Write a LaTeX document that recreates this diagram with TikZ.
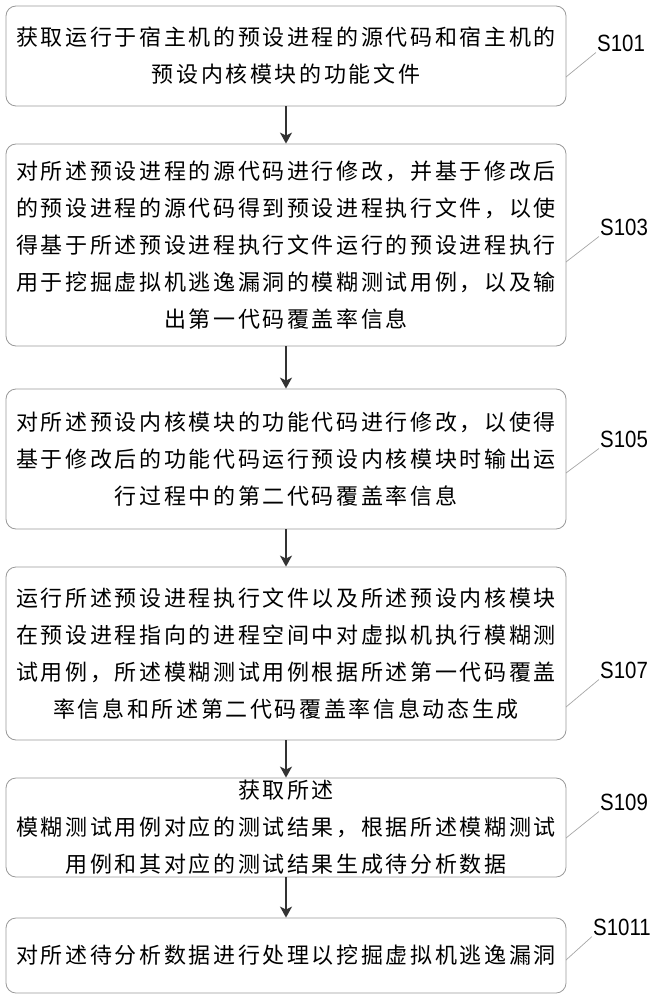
\documentclass[tikz,border=0pt]{standalone}
\usepackage{fontspec}
\newfontfamily\cjk[LetterSpace=12]{Noto Sans CJK SC}
\newfontfamily\labfont[FakeStretch=0.87]{Liberation Sans}
\usetikzlibrary{arrows.meta}

\tikzset{
    stepbox/.style={draw=black!40, line width=0.8pt, rounded corners=10pt, minimum width=560pt, align=center, inner sep=1pt, text=black, font=\cjk\fontsize{22}{37}\selectfont},
    flow/.style={->, draw=black!80, line width=1.6pt},
    steplabel/.style={inner sep=1pt, text=black, font=\labfont\fontsize{23.5}{23.5}\selectfont},
    leader/.style={draw=black!35, line width=0.7pt}
}

\begin{document}
\begin{tikzpicture}[x=1pt, y=-1pt, >={Stealth[length=11pt, width=12pt, inset=3pt]}]
    \useasboundingbox (0,0) rectangle (655,1000);

    % Boxes
    \node[stepbox, minimum height=100pt] (b1) at (286,56) {获取运行于宿主机的预设进程的源代码和宿主机的\\预设内核模块的功能文件};
    \node[stepbox, minimum height=202pt] (b2) at (286,245) {对所述预设进程的源代码进行修改，并基于修改后\\的预设进程的源代码得到预设进程执行文件，以使\\得基于所述预设进程执行文件运行的预设进程执行\\用于挖掘虚拟机逃逸漏洞的模糊测试用例，以及输\\出第一代码覆盖率信息};
    \node[stepbox, minimum height=140pt] (b3) at (286,459) {对所述预设内核模块的功能代码进行修改，以使得\\基于修改后的功能代码运行预设内核模块时输出运\\行过程中的第二代码覆盖率信息};
    \node[stepbox, minimum height=173pt] (b4) at (286,653.5) {运行所述预设进程执行文件以及所述预设内核模块\\在预设进程指向的进程空间中对虚拟机执行模糊测\\试用例，所述模糊测试用例根据所述第一代码覆盖\\率信息和所述第二代码覆盖率信息动态生成};
    \node[stepbox, minimum height=99pt] (b5) at (286,827.5) {获取所述\\模糊测试用例对应的测试结果，根据所述模糊测试\\用例和其对应的测试结果生成待分析数据};
    \node[stepbox, minimum height=75pt] (b6) at (286,955.5) {对所述待分析数据进行处理以挖掘虚拟机逃逸漏洞};

    % Arrows
    \draw[flow] (b1) -- (b2);
    \draw[flow] (b2) -- (b3);
    \draw[flow] (b3) -- (b4);
    \draw[flow] (b4) -- (b5);
    \draw[flow] (b5) -- (b6);

    % Labels
    \node[steplabel] (s101) at (621,43) {S101};
    \node[steplabel] (s103) at (624,227) {S103};
    \node[steplabel] (s105) at (624,439) {S105};
    \node[steplabel] (s107) at (624,670) {S107};
    \node[steplabel] (s109) at (624,802) {S109};
    \node[steplabel] (s1011) at (622,927) {S1011};

    % Leader lines
    \coordinate (t1) at (566,77);
    \coordinate (t3) at (566,262);
    \coordinate (t5) at (566,473);
    \coordinate (t7) at (566,707);
    \coordinate (t9) at (566,838);
    \coordinate (t11) at (566,960);
    \draw[leader] (t1) -- (s101.south west);
    \draw[leader] (t3) -- (s103.south west);
    \draw[leader] (t5) -- (s105.south west);
    \draw[leader] (t7) -- (s107.south west);
    \draw[leader] (t9) -- (s109.south west);
    \draw[leader] (t11) -- (s1011.south west);
\end{tikzpicture}
\end{document}
